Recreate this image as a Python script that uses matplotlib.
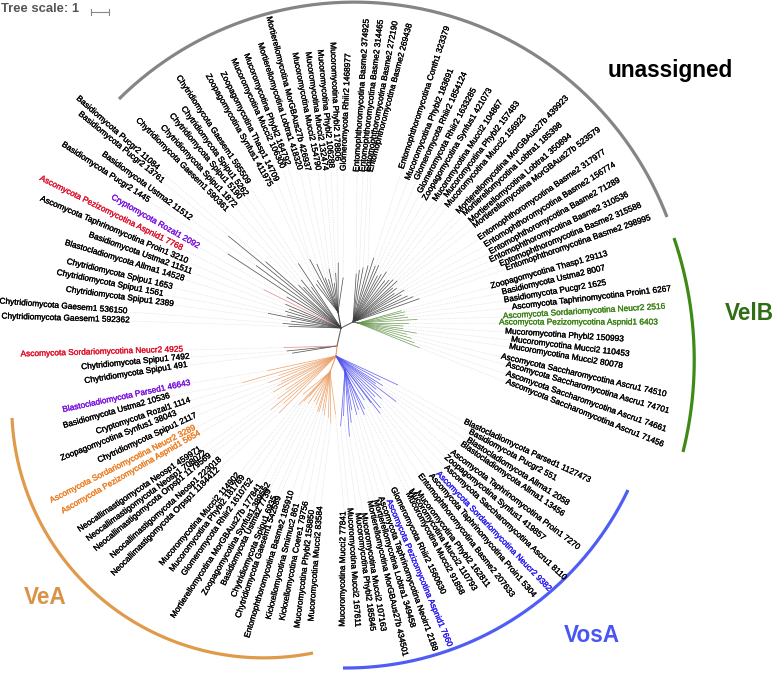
import math
import matplotlib
matplotlib.use("Agg")
import matplotlib.pyplot as plt
import matplotlib.patheffects as pe

plt.rcParams['font.family'] = ['Liberation Sans', 'DejaVu Sans']

# leaves, clockwise from the left, one list per part of the tree
left_names = [
    "Chytridiomycota Gaesem1 592362", "Chytridiomycota Gaesem1 536150", "Chytridiomycota Spipu1 2389",
    "Chytridiomycota Spipu1 1561", "Chytridiomycota Spipu1 1653", "Blastocladiomycota Allma1 14528",
    "Basidiomycota Ustma2 11511", "Ascomycota Taphrinomycotina Proin1 3210", "Ascomycota Pezizomycotina Aspnid1 7768",
    "Cryptomycota Rozal1 2092", "Basidiomycota Pucgr2 1445", "Basidiomycota Ustma2 11512",
    "Basidiomycota Pucgr2 13761", "Basidiomycota Pucgr2 11084", "Chytridiomycota Gaesem1 590361",
    "Chytridiomycota Spipu1 1872", "Chytridiomycota Spipu1 5190", "Chytridiomycota Spipu1 5262",
    "Chytridiomycota Gaesem1 595509",
]
top_names = [
    "Zoopagomycotina Synfus1 411975", "Zoopagomycotina Thasp1 14709", "Mucoromycotina Mucci2 106300",
    "Mucoromycotina Phybl2 164792", "Mortierellomycotina Lobtra1 418320", "Mortierellomycotina MorGBAus27b 426937",
    "Mucoromycotina Mucci2 154790", "Mucoromycotina Mucci2 132474", "Mucoromycotina Phybl2 106288",
    "Mucoromycotina Phybl2 178806", "Glomeromycota Rhiir2 1468977",
]
right_names = [
    "Entomophthoromycotina Basme2 374925", "Entomophthoromycotina Basme2 314465", "Entomophthoromycotina Basme2 272190",
    "Entomophthoromycotina Basme2 269438", "Entomophthoromycotina Conth1 323379", "Mucoromycotina Phybl2 183691",
    "Glomeromycota Rhiir2 1854124", "Glomeromycota Rhiir2 1633285", "Zoopagomycotina Synfus1 421073",
    "Mucoromycotina Mucci2 104867", "Mucoromycotina Phybl2 157483", "Mucoromycotina Mucci2 156923",
    "Mortierellomycotina MorGBAus27b 439923", "Mortierellomycotina Lobtra1 185398", "Mortierellomycotina Lobtra1 350894",
    "Mortierellomycotina MorGBAus27b 523579", "Entomophthoromycotina Basme2 317977", "Entomophthoromycotina Basme2 156774",
    "Entomophthoromycotina Basme2 71289", "Entomophthoromycotina Basme2 310536", "Entomophthoromycotina Basme2 315588",
    "Entomophthoromycotina Basme2 298995",
]
velb_names = [
    "Zoopagomycotina Thasp1 29113", "Basidiomycota Ustma2 8007", "Basidiomycota Pucgr2 1625",
    "Ascomycota Taphrinomycotina Proin1 6267", "Ascomycota Sordariomycotina Neucr2 2516",
    "Ascomycota Pezizomycotina Aspnid1 6403", "Mucoromycotina Phybl2 150993", "Mucoromycotina Mucci2 110453",
    "Mucoromycotina Mucci2 80078", "Ascomycota Saccharomycotina Ascru1 74510", "Ascomycota Saccharomycotina Ascru1 74701",
    "Ascomycota Saccharomycotina Ascru1 74661", "Ascomycota Saccharomycotina Ascru1 71456",
]
vosa_names = [
    "Blastocladiomycota Parsed1 1127473", "Basidiomycota Pucgr2 551", "Blastocladiomycota Allma1 2058",
    "Blastocladiomycota Allma1 13456", "Ascomycota Taphrinomycotina Proin1 7270", "Zoopagomycotina Synfus1 419857",
    "Ascomycota Saccharomycotina Ascru1 8110", "Ascomycota Sordariomycotina Neucr2 9382",
    "Ascomycota Taphrinomycotina Proin1 5304", "Entomophthoromycotina Basme2 207633", "Mucoromycotina Phybl2 162811",
    "Mucoromycotina Mucci2 110793", "Mucoromycotina Mucci2 91858", "Glomeromycota Rhiir2 1560630",
    "Ascomycota Pezizomycotina Aspnid1 7660", "Ascomycota Taphrinomycotina Neoirr1 2188",
    "Mortierellomycotina Lobtra1 349458", "Mortierellomycotina MorGBAus27b 434501", "Mucoromycotina Mucci2 107163",
    "Mucoromycotina Phybl2 185845", "Mucoromycotina Mucci2 167611",
]
vea_names = [
    "Mucoromycotina Mucci2 77841", "Mucoromycotina Mucci2 83584", "Mucoromycotina Phybl2 158850",
    "Kickxellomycotina Coere1 79756", "Kickxellomycotina Smimuc2 861", "Entomophthoromycotina Basme2 185910",
    "Chytridiomycota Gaesem1 542589", "Chytridiomycota Spipu1 6935", "Basidiomycota Ustma2 7739",
    "Zoopagomycotina Synfus1 389552", "Mortierellomycotina MorGBAus27b 177841", "Glomeromycota Rhiir2 1610752",
    "Mucoromycotina Phybl2 181769", "Mucoromycotina Mucci2 114902", "Neocallimastigomycota Orpsp1 1184412",
    "Neocallimastigomycota Neosp1 223018", "Neocallimastigomycota Orpsp1 1179569", "Neocallimastigomycota Neosp1 708072",
    "Neocallimastigomycota Neosp1 459971", "Ascomycota Pezizomycotina Aspnid1 5654",
    "Ascomycota Sordariomycotina Neucr2 3289", "Chytridiomycota Spipu1 2117", "Zoopagomycotina Synfus1 38043",
    "Cryptomycota Rozal1 1114", "Basidiomycota Ustma2 10536", "Blastocladiomycota Parsed1 46643",
]
basal_names = ["Chytridiomycota Spipu1 491", "Chytridiomycota Spipu1 7492", "Ascomycota Sordariomycotina Neucr2 4925"]

left_len = [52, 58, 50, 74, 55, 58, 55, 60, 86, 62, 135, 105, 145, 100, 60, 55, 62, 50, 77]
top_len = [50, 53, 75, 68, 52, 50, 60, 45, 55, 65, 50]
right_len = [48, 52, 55, 58, 67, 60, 62, 52, 55, 60, 52, 55, 58, 60, 52, 55, 50, 60, 55, 60, 65, 70]
velb_len = [45, 48, 47, 50, 59, 50, 45, 45, 59, 50, 55, 59, 66]
vosa_len = [68, 50, 55, 48, 75, 52, 62, 56, 68, 72, 58, 52, 60, 65, 58, 62, 56, 68, 81, 60, 70]
vea_len = [58, 67, 62, 60, 56, 58, 58, 52, 50, 55, 48, 55, 61, 50, 80, 70, 84, 72, 60, 72, 65, 60, 72, 60, 97, 70]
basal_len = [45, 50, 53]

# label placement, (outer end, inner end) in image pixels, same order again
left_ends = [
    (3, 317, 131, 321), (1, 302, 129, 312), (65, 290, 175, 305), (56, 273, 165, 295), (66, 262, 174, 288),
    (64, 243, 186, 280), (88, 235, 193, 273), (38, 198, 190, 263), (37, 177, 184, 250), (111, 197, 200, 248),
    (60, 143, 150, 202), (101, 153, 192, 220), (77, 112, 164, 183), (76, 97, 159, 170), (136, 119, 228, 212),
    (159, 124, 236, 208), (169, 113, 241, 200), (181, 106, 247, 197), (177, 76, 249, 185),
]
top_ends = [
    (207, 75, 271, 188), (222, 73, 277, 183), (233, 60, 283, 170), (245, 53, 288, 167), (259, 42, 300, 172),
    (268, 17, 308, 173), (294, 53, 318, 172), (307, 51, 325, 172), (319, 47, 331, 170), (332, 44, 337, 163),
    (349, 53, 344, 171),
]
right_ends = [
    (368, 9, 357, 172), (382, 17, 363, 172), (397, 17, 368, 172), (411, 22, 371, 172), (449, 24, 402, 169),
    (453, 67, 408, 180), (466, 72, 417, 180), (475, 89, 420, 193), (492, 87, 425, 200), (503, 99, 435, 201),
    (519, 102, 446, 197), (527, 114, 447, 207), (569, 96, 458, 213), (563, 123, 464, 215), (574, 133, 470, 222),
    (603, 127, 474, 227), (608, 150, 479, 239), (618, 163, 485, 246), (624, 178, 490, 253), (632, 193, 490, 261),
    (645, 204, 500, 265), (654, 217, 506, 269),
]
velb_ends = [
    (608, 254, 491, 287), (607, 268, 502, 293), (608, 283, 504, 301), (674, 289, 512, 308), (668, 307, 503, 317),
    (661, 323, 499, 323), (625, 340, 505, 332), (631, 355, 511, 340), (624, 367, 509, 347), (670, 396, 501, 357),
    (673, 413, 506, 365), (671, 432, 506, 374), (667, 447, 506, 382),
]
vosa_ends = [
    (592, 482, 464, 422), (559, 481, 469, 432), (571, 506, 467, 440), (566, 517, 461, 444), (583, 552, 451, 452),
    (547, 542, 445, 457), (569, 583, 445, 467), (552, 593, 437, 473), (537, 600, 430, 475), (515, 600, 419, 475),
    (485, 583, 417, 492), (473, 588, 410, 490), (463, 597, 407, 493), (443, 594, 392, 488), (450, 648, 388, 500),
    (436, 655, 380, 497), (413, 630, 375, 500), (405, 658, 369, 501), (383, 633, 363, 513), (372, 631, 357, 513),
    (357, 628, 349, 508),
]
vea_ends = [
    (343, 626, 344, 510), (312, 620, 321, 505), (298, 627, 313, 508), (283, 620, 307, 500), (269, 620, 298, 502),
    (248, 637, 293, 489), (239, 617, 280, 495), (235, 595, 276, 495), (224, 585, 270, 489), (205, 594, 270, 482),
    (173, 618, 262, 483), (184, 575, 253, 478), (171, 572, 245, 475), (163, 563, 240, 473), (112, 576, 220, 468),
    (110, 559, 222, 458), (93, 552, 212, 454), (85, 542, 207, 452), (77, 532, 202, 448), (61, 513, 202, 432),
    (48, 503, 197, 427), (97, 462, 198, 415), (59, 460, 178, 413), (95, 433, 192, 400), (62, 427, 171, 396),
    (61, 411, 192, 383),
]
basal_ends = [(83, 382, 189, 365), (80, 368, 191, 357), (19, 355, 185, 350)]

highlight = {
    "Ascomycota Pezizomycotina Aspnid1 7768": "#e0102a", "Ascomycota Sordariomycotina Neucr2 4925": "#e0102a",
    "Cryptomycota Rozal1 2092": "#7a10e0", "Blastocladiomycota Parsed1 46643": "#7a10e0",
    "Ascomycota Sordariomycotina Neucr2 2516": "#3c8214", "Ascomycota Pezizomycotina Aspnid1 6403": "#3c8214",
    "Ascomycota Sordariomycotina Neucr2 9382": "#2a18f0", "Ascomycota Pezizomycotina Aspnid1 7660": "#2a18f0",
    "Ascomycota Sordariomycotina Neucr2 3289": "#ee7d22", "Ascomycota Pezizomycotina Aspnid1 5654": "#ee7d22",
}
red_tips = ["Ascomycota Pezizomycotina Aspnid1 7768", "Ascomycota Sordariomycotina Neucr2 4925"]

BLACK = "#3c3c3c"
GREEN = "#64954a"
BLUE = "#5050f2"
ORANGE = "#ea9c60"

# internal nodes of the tree (image pixels)
root = (341, 328)
node_right = (353, 322)
node_green = (358, 323)
node_basal = (337, 346)
node_colour = (336, 356)

# name, len, ends, hub the length runs from, node the branch starts at, colour
groups = [
    (left_names, left_len, left_ends, root, root, BLACK),
    (top_names, top_len, top_ends, root, (338, 312), BLACK),
    (right_names, right_len, right_ends, node_right, node_right, BLACK),
    (velb_names, velb_len, velb_ends, node_green, node_green, GREEN),
    (vosa_names[:13], vosa_len[:13], vosa_ends[:13], node_colour, node_colour, BLUE),
    (vosa_names[13:], vosa_len[13:], vosa_ends[13:], node_colour, (345, 370), BLUE),
    (vea_names[:14], vea_len[:14], vea_ends[:14], node_colour, (330, 372), ORANGE),
    (vea_names[14:], vea_len[14:], vea_ends[14:], node_colour, node_colour, ORANGE),
    (basal_names, basal_len, basal_ends, node_basal, node_basal, BLACK),
]


def arc_through(a, b, c, n=200):
    # circle through three points, walked from a to c passing b
    d = 2 * (a[0] * (b[1] - c[1]) + b[0] * (c[1] - a[1]) + c[0] * (a[1] - b[1]))
    sa, sb, sc = a[0]**2 + a[1]**2, b[0]**2 + b[1]**2, c[0]**2 + c[1]**2
    ux = (sa * (b[1] - c[1]) + sb * (c[1] - a[1]) + sc * (a[1] - b[1])) / d
    uy = (sa * (c[0] - b[0]) + sb * (a[0] - c[0]) + sc * (b[0] - a[0])) / d
    r = math.hypot(a[0] - ux, a[1] - uy)
    t0 = math.atan2(a[1] - uy, a[0] - ux)
    t1 = math.atan2(b[1] - uy, b[0] - ux)
    t2 = math.atan2(c[1] - uy, c[0] - ux)
    two_pi = 2 * math.pi
    if (t1 - t0) % two_pi > (t2 - t0) % two_pi:
        sweep = -((t0 - t2) % two_pi)
    else:
        sweep = (t2 - t0) % two_pi
    ts = [t0 + sweep * i / n for i in range(n + 1)]
    return [ux + r * math.cos(t) for t in ts], [uy + r * math.sin(t) for t in ts]


fig = plt.figure(figsize=(7.74, 6.74), dpi=100)
ax = fig.add_axes([0, 0, 1, 1])
ax.set_xlim(0, 774)
ax.set_ylim(674, 0)
ax.axis("off")

for names, lens, ends, hub, start, colour in groups:
    for name, length, (ox, oy, ix, iy) in zip(names, lens, ends):
        dx, dy = ox - ix, oy - iy
        size = math.hypot(dx, dy)
        tx = hub[0] + length * dx / size
        ty = hub[1] + length * dy / size
        # dotted guide from the tip out to the label
        ax.plot([tx, ix], [ty, iy], ls=(0, (1, 1.5)), lw=0.5, color="#d8d8d8", zorder=1)
        branch = "#e87a7a" if name in red_tips else colour
        ax.plot([start[0], tx], [start[1], ty], lw=0.55, color=branch, alpha=0.85, zorder=2)

        # text always reads left to right, the inner end is the anchor
        if ox < ix or (ox == ix and oy > iy):
            rot = math.degrees(math.atan2(-(iy - oy), ix - ox))
            ha = "right"
        else:
            rot = math.degrees(math.atan2(-(oy - iy), ox - ix))
            ha = "left"
        col = highlight.get(name, "black")
        t = ax.text(ix, iy, name, rotation=rot, rotation_mode="anchor", ha=ha, va="center",
                    fontsize=6.0, color=col, zorder=3)
        t.set_path_effects([pe.withStroke(linewidth=0.2, foreground=col)])

# stems between the clades
ax.plot([root[0], node_right[0], node_green[0]], [root[1], node_right[1], node_green[1]], lw=0.8, color="#666666")
ax.plot([root[0], node_basal[0]], [root[1], node_basal[1]], lw=0.8, color="#666666")
ax.plot([node_basal[0], node_colour[0]], [node_basal[1], node_colour[1]], lw=0.8, color=ORANGE)
ax.plot([node_colour[0], 330], [node_colour[1], 372], lw=0.8, color=ORANGE)
ax.plot([node_colour[0], 345], [node_colour[1], 370], lw=0.8, color=BLUE)
ax.plot([root[0], 338], [root[1], 312], lw=0.8, color=BLACK)

# clade arcs and names
arcs = [
    ((119, 99), (390, 4), (667, 217), "#858585"),
    ((674, 238), (694, 347), (683, 452), "#3f8a14"),
    ((628, 490), (560, 583), (343, 668), "#4f5cf5"),
    ((12, 418), (103, 600), (313, 653), "#df9a4a"),
]
for a, b, c, colour in arcs:
    xs, ys = arc_through(a, b, c)
    ax.plot(xs, ys, lw=2.3, color=colour, solid_capstyle="butt")

ax.text(670, 70, "unassigned", fontsize=16.3, fontweight="bold", color="black", ha="center", va="center")
ax.text(749, 313, "VelB", fontsize=16.3, fontweight="bold", color="#2f6e14", ha="center", va="center")
ax.text(592, 636, "VosA", fontsize=16.3, fontweight="bold", color="#4a55f5", ha="center", va="center")
ax.text(45, 597, "VeA", fontsize=16.3, fontweight="bold", color="#d99347", ha="center", va="center")

# tree scale
ax.text(1, 9, "Tree scale: 1", fontsize=9.4, fontweight="bold", color="#555555", ha="left", va="center")
ax.plot([90.5, 108.5], [12, 12], lw=0.8, color="#888888")
ax.plot([90.5, 90.5], [9, 15], lw=0.8, color="#888888")
ax.plot([108.5, 108.5], [9, 15], lw=0.8, color="#888888")

fig.savefig("out.png", dpi=100)
